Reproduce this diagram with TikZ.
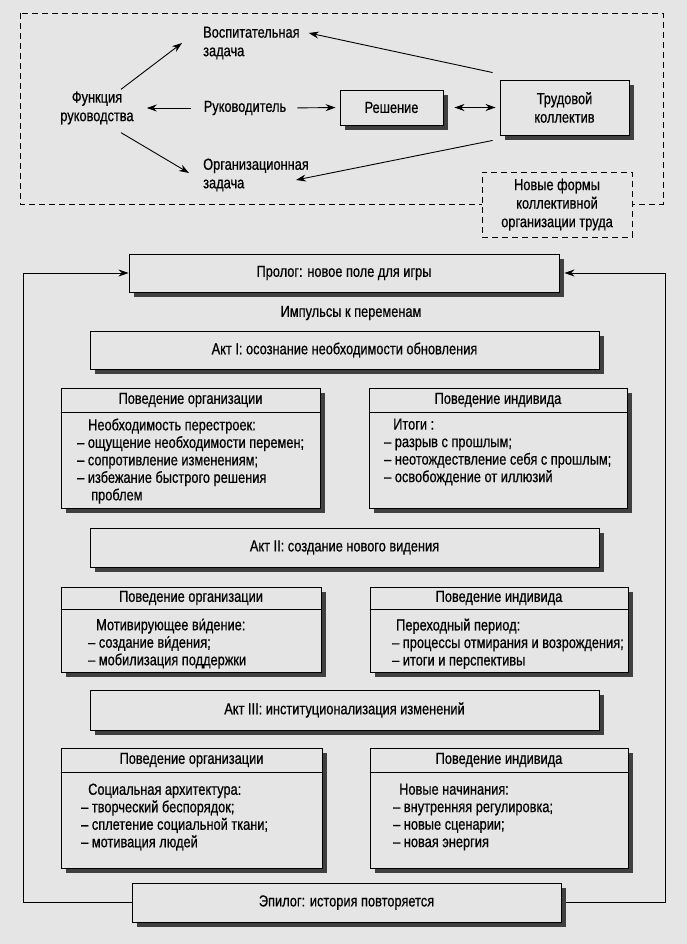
\documentclass[tikz,border=0pt]{standalone}
\usepackage{fontspec}
\setmainfont{Liberation Sans}[FakeStretch=0.8,FakeBold=0.6]
\usetikzlibrary{arrows.meta,shadows,calc}
\definecolor{bg}{gray}{0.9}
\begin{document}
\begin{tikzpicture}[x=1pt,y=-1pt,
  every node/.style={font=\fontsize{16}{17.5}\selectfont, inner sep=0pt},
  toptext/.style={font=\fontsize{16}{18.5}\selectfont},
  box/.style={draw, line width=0.9pt, fill=bg,
    drop shadow={shadow xshift=5pt, shadow yshift=-5pt, fill=black!75, opacity=1}},
  arr/.style={line width=0.9pt, -{Stealth[length=10pt,width=7pt]}},
  darr/.style={line width=0.9pt, {Stealth[length=10pt,width=7pt]}-{Stealth[length=10pt,width=7pt]}},
  dsh/.style={line width=0.8pt, dash pattern=on 6pt off 4pt},
  txt/.style={align=left, anchor=north west},
  sep/.style={line width=0.9pt}
]
\fill[bg] (0,0) rectangle (687,944);
\useasboundingbox (0,0) rectangle (687,944);

% ---------- top part ----------
\draw[dsh] (20,13) rectangle (663,204);
\node[draw, dsh, fill=bg, minimum width=150pt, minimum height=65pt, align=center, toptext] (newf) at (557,204.5)
  {Новые формы\\коллективной\\организации труда};

\node[toptext, align=left, anchor=west] (vosp) at (203,43) {Воспитательная\\задача};
\node[toptext, align=center] (func) at (97,108) {Функция\\руководства};
\node (ruk) at (245,108) {Руководитель};
\node[toptext, align=left, anchor=west] (orgz) at (203,175) {Организационная\\задача};
\node[box, minimum width=103pt, minimum height=35pt] (resh) at (391.5,107.5) {Решение};
\node[box, toptext, minimum width=129pt, minimum height=55pt, align=center] (trud) at (564.5,107.5) {Трудовой\\коллектив};

\draw[arr] ([xshift=24pt,yshift=2pt]func.north) -- ([xshift=-21pt]vosp.west);
\draw[arr] ([xshift=24pt,yshift=-8pt]func.south) -- ([xshift=-14pt,yshift=2pt]orgz.west);
\draw[arr, shorten <=13pt, shorten >=13pt] (ruk.west) -- (func.east |- ruk.west);
\draw[arr, shorten <=11pt, shorten >=4pt] (ruk.east) -- (resh.west);
\draw[darr, shorten <=11pt, shorten >=4pt] (resh.east) -- (trud.west);
\draw[arr] ([xshift=-7pt,yshift=7pt]trud.north west) -- ([xshift=9pt,yshift=10pt]vosp.east);
\draw[arr] ([xshift=-7pt,yshift=-5pt]trud.south west) -- ([xshift=-13pt,yshift=-5pt]orgz.east);

% ---------- lower part ----------
\coordinate (lc) at (23,273);
\coordinate (rc) at (665,273);

\node[box, minimum width=430pt, minimum height=38pt] (prolog) at (344,273) {Пролог: новое поле для игры};
\node[box, minimum width=429pt, minimum height=39pt] (epilog) at (346.5,902.5) {Эпилог: история повторяется};
\draw[arr] (epilog.west) -| (lc) -- (prolog.west);
\draw[arr] ([xshift=5pt]epilog.east) -| (rc) -- ([xshift=5pt]prolog.east);

\node (imp) at (351,313) {Импульсы к переменам};

\node[box, minimum width=509pt, minimum height=38pt] (act1) at (344.5,350) {Акт I: осознание необходимости обновления};
\node[box, minimum width=509pt, minimum height=39pt] (act2) at (344.5,547.5) {Акт II: создание нового видения};
\node[box, minimum width=509pt, minimum height=40pt] (act3) at (344.5,710) {Акт III: институционализация изменений};

% row 1
\node[box, minimum width=259pt, minimum height=120pt] (org1) at (190.5,448) {};
\draw[sep] (org1.west |- 0,412) -- (org1.east |- 0,412);
\node (org1h) at (190.5,400) {Поведение организации};
\node[txt] (org1b) at (77,418.4) {\hspace*{11pt}Необходимость перестроек:\\– ощущение необходимости перемен;\\– сопротивление изменениям;\\– избежание быстрого решения\\\hspace*{14pt}проблем};

\node[box, minimum width=258pt, minimum height=120pt] (ind1) at (498,448) {};
\draw[sep] (ind1.west |- 0,412) -- (ind1.east |- 0,412);
\node (ind1h) at (498,400) {Поведение индивида};
\node[txt] (ind1b) at (384,418.4) {\hspace*{9pt}Итоги :\\– разрыв с прошлым;\\– неотождествление себя с прошлым;\\– освобождение от иллюзий};

% row 2
\node[box, minimum width=260pt, minimum height=85pt] (org2) at (191,629.5) {};
\draw[sep] (org2.west |- 0,609) -- (org2.east |- 0,609);
\node (org2h) at (191,598) {Поведение организации};
\node[txt] (org2b) at (88,618.4) {\hspace*{8pt}Мотивирующее ви́дение:\\– создание ви́дения;\\– мобилизация поддержки};

\node[box, minimum width=258pt, minimum height=85pt] (ind2) at (499,629.5) {};
\draw[sep] (ind2.west |- 0,609) -- (ind2.east |- 0,609);
\node (ind2h) at (499,598) {Поведение индивида};
\node[txt] (ind2b) at (392,618.4) {\hspace*{4pt}Переходный период:\\– процессы отмирания и возрождения;\\– итоги и перспективы};

% row 3
\node[box, minimum width=261pt, minimum height=120pt] (org3) at (191.5,808) {};
\draw[sep] (org3.west |- 0,772) -- (org3.east |- 0,772);
\node (org3h) at (191.5,760) {Поведение организации};
\node[txt] (org3b) at (81,783.4) {\hspace*{7pt}Социальная архитектура:\\– творческий беспорядок;\\– сплетение социальной ткани;\\– мотивация людей};

\node[box, minimum width=258pt, minimum height=120pt] (ind3) at (499,808) {};
\draw[sep] (ind3.west |- 0,772) -- (ind3.east |- 0,772);
\node (ind3h) at (499,760) {Поведение индивида};
\node[txt] (ind3b) at (393,783.4) {\hspace*{6pt}Новые начинания:\\– внутренняя регулировка;\\– новые сценарии;\\– новая энергия};
\end{tikzpicture}
\end{document}
